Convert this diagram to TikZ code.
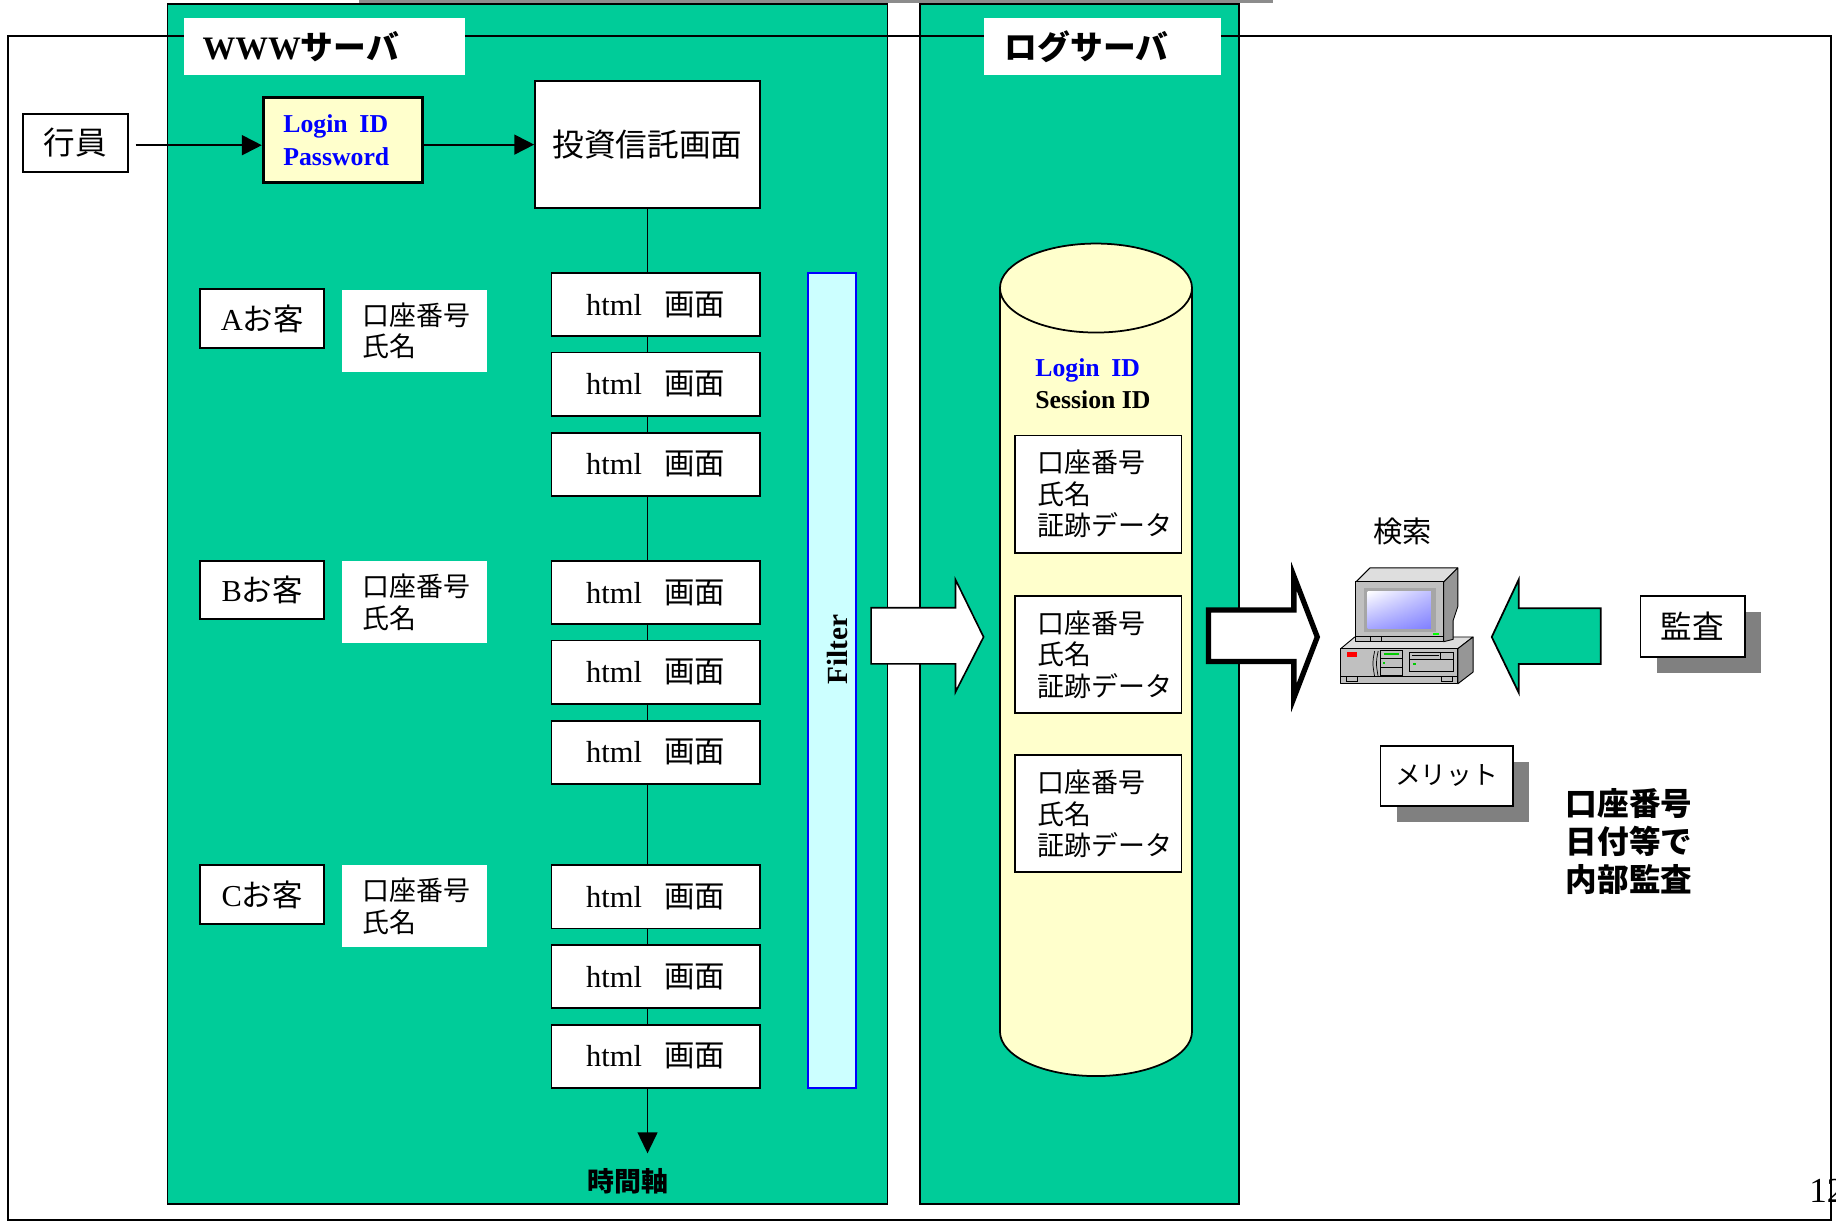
\documentclass[tikz,border=0pt]{standalone}
\usepackage{fontspec}
\setmainfont{Liberation Serif}
\newfontfamily\jp{Noto Sans CJK JP}
\usetikzlibrary{arrows.meta,shadows,shadings}

\definecolor{panelgreen}{RGB}{0,204,153}
\definecolor{lightyellow}{RGB}{255,255,204}
\definecolor{lightcyan}{RGB}{204,255,255}
\definecolor{textblue}{RGB}{0,0,255}
\definecolor{shadowgray}{RGB}{128,128,128}
\definecolor{pcgray}{RGB}{192,192,192}
\definecolor{pclight}{RGB}{222,222,222}
\definecolor{pcdark}{RGB}{150,150,150}

\newcommand\gamen{html\hspace{19pt}{\jp 画面}}

\begin{document}
\begin{tikzpicture}[x=1pt,y=-1pt,
  panel/.style={draw, line width=1.5pt, fill=panelgreen},
  titlebox/.style={fill=white, inner xsep=16pt, inner ysep=0pt, minimum height=49pt,
    align=left, font=\bfseries\fontsize{28}{32}\selectfont},
  box/.style={draw, line width=1.6pt, fill=white, inner sep=0pt, align=center},
  conn/.style={line width=1.6pt, -{Triangle[length=17pt,width=17pt]}},
  loginbox/.style={draw, line width=2.8pt, fill=lightyellow, minimum width=136pt,
    minimum height=73pt, inner xsep=17pt, inner ysep=0pt, text width=102pt, align=left,
    text=textblue, font=\bfseries\fontsize{22}{28}\selectfont},
  htmlbox/.style={box, minimum width=178pt, minimum height=54pt, font=\fontsize{26}{30}\selectfont},
  cust/.style={box, minimum width=106pt, minimum height=50pt, font=\fontsize{26}{30}\selectfont},
  info/.style={fill=white, minimum width=124pt, minimum height=70pt, inner xsep=18pt,
    inner ysep=0pt, text width=88pt, align=left, font=\jp\fontsize{23}{27}\selectfont},
  record/.style={box, line width=1.5pt, minimum width=142pt, minimum height=100pt,
    inner xsep=19pt, text width=104pt, align=left, font=\jp\fontsize{23}{27}\selectfont},
  filterbar/.style={draw=textblue, line width=2pt, fill=lightcyan, minimum width=41pt,
    minimum height=696pt, inner sep=0pt},
  shbox/.style={box, general shadow={fill=shadowgray, shadow xshift=14pt, shadow yshift=-14pt}},
  pc/.style={draw=black, line width=0.8pt, line join=round}
]
\useasboundingbox (0,0) rectangle (1568,1044);

% thin grey bar along the top edge
\fill[black!45] (307,0) rectangle (1087,2.3);

% server panels
\draw[panel] (143,3.5) rectangle (758,1028);
\draw[panel] (786,3.5) rectangle (1058,1028);

% outer frame
\draw[line width=1.5pt] (7,31) rectangle (1564,1042);

% panel titles
\node[titlebox, minimum width=240pt, text width=208pt] (wwwtitle) at (277,39.5) {WWW{\jp サーバ}};
\node[titlebox, inner xsep=18pt, minimum width=203pt, text width=167pt] (logtitle) at (941.5,39.5) {{\jp ログサーバ}};

% login flow
\node[box, minimum width=89pt, minimum height=50pt, font=\jp\fontsize{27}{32}\selectfont] (gyoin) at (64.5,122) {行員};
\node[loginbox] (login) at (293,119.5) {Login\hspace{10pt}ID\\Password};
\node[box, minimum width=192pt, minimum height=109pt, font=\jp\fontsize{27}{32}\selectfont] (tousin) at (553,123.5) {投資信託画面};
\draw[conn, shorten <=6pt] ([yshift=-2pt]gyoin.east) -- ([yshift=-2pt]gyoin.east -| login.west);
\draw[conn] (tousin.west -| login.east) -- (tousin.west);

% time axis
\coordinate (timeend) at (553,985);
\draw[line width=1.5pt, -{Triangle[length=18pt,width=17pt]}] (tousin.south) -- (timeend);
\node[font=\jp\bfseries\fontsize{23}{26}\selectfont] (jikan) at (536,1009) {時間軸};

% page screens
\foreach \y/\n in {260/a1,328/a2,396.5/a3,506/b1,574/b2,642.5/b3,766/c1,834/c2,902/c3}
  \node[htmlbox] (\n) at (560,\y) {\gamen};

% customers and their data
\node[cust] (custA) at (224,272) {A{\jp お客}};
\node[cust] (custB) at (224,504) {B{\jp お客}};
\node[cust] (custC) at (224,764) {C{\jp お客}};
\node[info] (infoA) at (354,282.5) {口座番号\\氏名};
\node[info] (infoB) at (354,514.5) {口座番号\\氏名};
\node[info] (infoC) at (354,774) {口座番号\\氏名};

% filter
\node[filterbar] (filter) at (710.5,581) {};
\node[rotate=90, font=\bfseries\fontsize{25}{25}\selectfont] (filterlabel) at (715,555) {Filter};

% transfer arrow into the log server
\draw[fill=white, line width=1.4pt, line join=miter]
  (744,519) -- (816,519) -- (816,495) -- (840,544) -- (816,591) -- (816,567) -- (744,567) -- cycle;

% log store cylinder
\fill[lightyellow] (854,246) rectangle (1018,881);
\fill[lightyellow] (936,881) ellipse [x radius=82pt, y radius=38pt];
\draw[line width=1.5pt] (854,246) -- (854,881)
  arc[start angle=180, end angle=360, x radius=82pt, y radius=38pt] -- (1018,246);
\draw[line width=1.5pt, fill=lightyellow] (936,246) ellipse [x radius=82pt, y radius=38pt];
\node[anchor=west, align=left, inner sep=0pt, font=\bfseries\fontsize{22}{27}\selectfont] (ids) at (884,327.5)
  {\textcolor{textblue}{Login\hspace{10pt}ID}\\Session ID};
\node[record] (rec1) at (938,422) {口座番号\\氏名\\証跡データ};
\node[record] (rec2) at (938,559) {口座番号\\氏名\\証跡データ};
\node[record] (rec3) at (938,695) {口座番号\\氏名\\証跡データ};

% bold outlined arrow to the search terminal
\draw[fill=white, line width=4.5pt, line join=miter]
  (1032,521) -- (1105,521) -- (1105,492) -- (1125,544) -- (1105,596) -- (1105,565) -- (1032,565) -- cycle;

% search terminal
\filldraw[pc, fill=pclight] (1145,554) -- (1157,544) -- (1258,544) -- (1245,554) -- cycle;
\filldraw[pc, fill=pcdark] (1245,554) -- (1258,544) -- (1258,574) -- (1245,584) -- cycle;
\filldraw[pc, fill=pcgray] (1145,554) rectangle (1245,584);
\fill[red] (1150,557) rectangle (1159,561.5);
\draw[line width=0.6pt] (1174,556) .. controls (1172,566) .. (1174,578);
\draw[line width=0.6pt] (1177,556) .. controls (1175,566) .. (1177,578);
\draw[line width=0.6pt] (1179,555) rectangle (1198,577);
\draw[line width=0.6pt] (1179,562) -- (1198,562) (1179,570) -- (1198,570);
\fill[green!80!black] (1182,558) rectangle (1195,559.5);
\fill[green!80!black] (1181,565.5) rectangle (1183,567);
\draw[line width=0.6pt] (1204,557) rectangle (1241,573);
\draw[line width=0.6pt] (1204,563) -- (1241,563) (1230,557) -- (1230,563);
\fill[black] (1206,559) rectangle (1229,560.5);
\fill[green!80!black] (1207,566) rectangle (1209,567.5);
\draw[line width=0.6pt] (1145,578) -- (1245,578);
\draw[line width=0.6pt] (1150,578) rectangle (1159,582) (1231,578) rectangle (1240,582);
\filldraw[pc, fill=pclight] (1158,497) -- (1170,485) -- (1245,485) -- (1233,497) -- cycle;
\filldraw[pc, fill=pcdark] (1233,497) -- (1245,485) -- (1245,518) -- (1241,530) -- (1241,546) -- (1233,548) -- cycle;
\filldraw[pc, fill=pcgray] (1158,497) rectangle (1233,548);
\fill[black!35] (1165,502) rectangle (1226,540);
\shade[upper left=white, upper right=blue!25, lower left=blue!35, lower right=blue!50] (1168,505) rectangle (1222,537);
\draw[line width=0.5pt] (1158,543) -- (1233,543) (1170,543) -- (1170,548) (1180,543) -- (1180,548);
\fill[green] (1224,540.5) rectangle (1229,542.5);
\node[font=\jp\fontsize{25}{30}\selectfont] (kensaku) at (1198,454) {検索};

% audit request arrow
\draw[fill=panelgreen, line width=1.5pt, line join=miter]
  (1274,544) -- (1297,495) -- (1297,519.5) -- (1367,519.5) -- (1367,567) -- (1297,567) -- (1297,591.5) -- cycle;
\node[shbox, minimum width=89pt, minimum height=52pt, font=\jp\fontsize{27}{32}\selectfont] (kansa) at (1445.5,535) {監査};

% merit
\node[shbox, minimum width=113pt, minimum height=51pt, font=\jp\fontsize{22}{28}\selectfont] (merit) at (1235.5,662.5) {メリット};
\node[anchor=west, align=left, inner sep=0pt, font=\jp\bfseries\fontsize{27}{32.5}\selectfont] (naibu) at (1337,718.5)
  {口座番号\\日付等で\\内部監査};

% page number
\node[anchor=base west, inner sep=0pt, font=\fontsize{30}{30}\selectfont] (pagenum) at (1545,1027) {12};
\end{tikzpicture}
\end{document}
